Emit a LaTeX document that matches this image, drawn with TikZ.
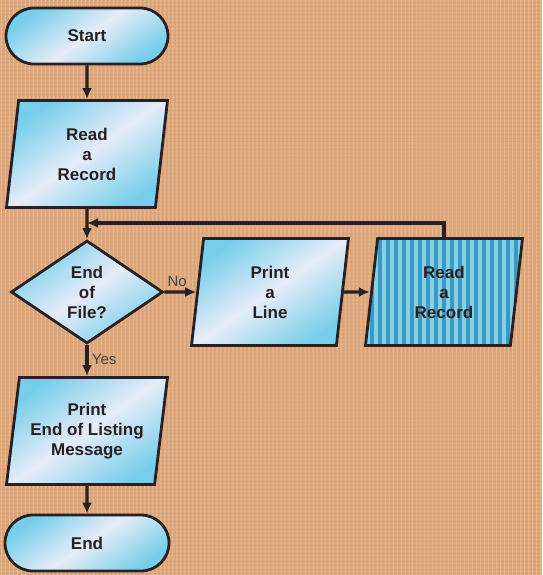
\documentclass[tikz,border=0pt]{standalone}
\usepackage{fontspec}
\setmainfont{Liberation Sans}
\usetikzlibrary{arrows.meta,patterns.meta,shapes.geometric,shapes.misc}

\definecolor{paper}{RGB}{220,162,120}
\definecolor{paperlight}{RGB}{232,194,148}
\definecolor{ink}{RGB}{40,32,34}
\definecolor{boxa}{RGB}{118,206,234}
\definecolor{boxb}{RGB}{230,236,248}
\definecolor{stripea}{RGB}{52,156,192}
\definecolor{stripeb}{RGB}{140,206,230}

\tikzset{
  box/.style={draw=ink,line width=2.8pt,text=ink,align=center,
    font=\fontsize{17}{20}\selectfont\bfseries},
  glossy/.style={left color=boxa,right color=boxa,middle color=boxb,shading angle=35},
  striped/.style={preaction={fill=stripea},
    pattern={Lines[angle=90,distance=8pt,line width=3.5pt]},pattern color=stripeb},
  term/.style={box,glossy,rounded rectangle,minimum width=162pt,minimum height=56pt,inner sep=0pt},
  io/.style={box,trapezium,trapezium left angle=77,trapezium right angle=103,
    trapezium stretches body,minimum width=157pt,minimum height=107pt,inner sep=0pt},
  decide/.style={box,glossy,diamond,aspect=1.5,inner sep=0pt,minimum width=152pt,minimum height=103pt},
  flow/.style={draw=ink,line width=3.2pt,-{Latex[length=11pt,width=10pt]}},
  answer/.style={text=ink!85,font=\fontsize{15}{18}\selectfont}
}

\begin{document}
\begin{tikzpicture}[x=1pt,y=-1pt]
% 背景（竖条纹纸）
\useasboundingbox (0,0) rectangle (542,575);
\fill[paper] (0,0) rectangle (542,575);
\fill[pattern={Lines[angle=90,distance=4pt,line width=1.6pt]},pattern color=paperlight]
  (0,0) rectangle (542,575);
% 流程框
\node[term] (start) at (87,36) {Start};
\node[io,glossy,minimum width=161pt] (read) at (87,154) {Read\\a\\Record};
\node[decide] (test) at (87,292) {End\\of\\File?};
\node[io,glossy] (print) at (270,292) {Print\\a\\Line};
\node[io,striped] (read2) at (444,292) {Read\\a\\Record};
\node[io,glossy,minimum width=161pt] (msg) at (87,431) {Print\\End of Listing\\Message};
\node[term,minimum width=164pt] (finish) at (87,543) {End};
% 回流汇合点
\coordinate (join) at (87,223);
% 连线
\draw[flow] (start) -- (read);
\draw[flow] (read) -- (test);
\draw[flow] (test) -- node[answer,above,pos=0.4] (no) {No} (print);
\draw[flow] (print) -- (read2);
\draw[flow] (read2.north) |- (join);
\draw[flow] (test) -- node[answer,right,pos=0.45] (yes) {Yes} (msg);
\draw[flow] (msg) -- (finish);
\end{tikzpicture}
\end{document}
